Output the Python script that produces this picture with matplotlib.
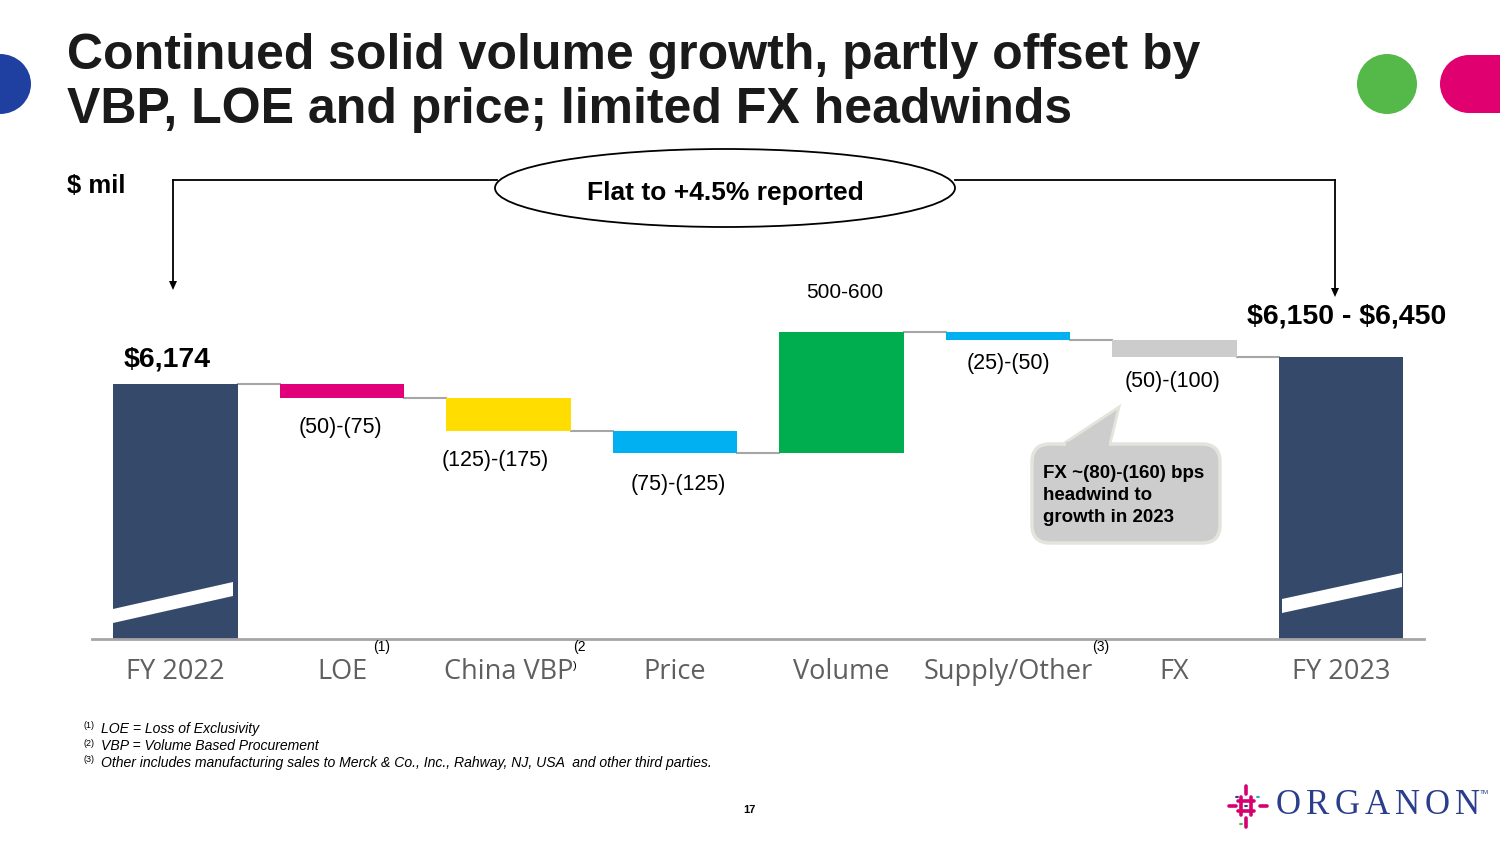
import numpy as np
import matplotlib
matplotlib.use("Agg")
import matplotlib.pyplot as plt
from matplotlib.patches import Ellipse, Circle, FancyBboxPatch, Polygon, Rectangle

plt.rcParams['font.family'] = ['Liberation Sans', 'DejaVu Sans']

# data (mid-points of the guided ranges, $ mil)
categories = ['FY 2022', 'LOE', 'China VBP', 'Price', 'Volume', 'Supply/Other', 'FX', 'FY 2023']
start_value = 6174
changes = [-62.5, -150, -100, 550, -37.5, -75]
value_labels = ['(50)-(75)', '(125)-(175)', '(75)-(125)', '500-600', '(25)-(50)', '(50)-(100)']
bar_colors = ['#E2007A', '#FFDD00', '#00B0F0', '#00AE4F', '#00B0F0', '#CCCCCC']
total_color = '#354A6B'
end_label = r'\$6,150 - \$6,450'
start_label = r'\$6,174'

W, H = 1500, 844
fig = plt.figure(figsize=(15, 8.44), dpi=100)


def fx(px):
    return px / W


def fy(py):
    return 1 - py / H


# axes placement in pixel terms
ax = fig.add_axes([fx(92.25), fy(639), fx(1332), 370.7 / H])
ax.set_xlim(-0.5, 7.5)
ax.set_ylim(5015, 6700)
for s in ['top', 'right', 'left']:
    ax.spines[s].set_visible(False)
ax.spines['bottom'].set_color('#A6A6A6')
ax.spines['bottom'].set_linewidth(2)
ax.set_yticks([])
ax.set_xticks(range(len(categories)))
ax.set_xticklabels(categories, fontsize=19.5, color='#5F5F5F', family=['Open Sans', 'DejaVu Sans'])
ax.tick_params(axis='x', length=0, pad=14)

bw = 0.75
cum = [start_value]
for c in changes:
    cum.append(cum[-1] + c)
end_value = cum[-1]

# totals
ax.bar(0, start_value, width=bw, bottom=0, color=total_color, zorder=2)
ax.bar(7, end_value, width=bw, bottom=0, color=total_color, zorder=2)

# steps
for i, c in enumerate(changes):
    x = i + 1
    lo = min(cum[i], cum[i + 1])
    ax.bar(x, abs(c), width=bw, bottom=lo, color=bar_colors[i], zorder=2)

# connectors
for i in range(len(cum)):
    ax.plot([i + bw / 2, i + 1 - bw / 2], [cum[i], cum[i]], color='#A6A6A6', lw=1.5, zorder=1)

# value labels (offsets in pixels from the bar end)
label_dx = [-2, -13, 3, 3, 0, -2]
label_dy = [-30, -30, -32, 39, -23, -25]
for i, c in enumerate(changes):
    x = i + 1
    ax.annotate(value_labels[i], (x, cum[i + 1]), xytext=(label_dx[i] * 0.72, label_dy[i] * 0.72),
                textcoords='offset points', ha='center', va='center',
                fontsize=15 if c > 0 else 15.5)

ax.annotate(start_label, (0, start_value), xytext=(-6, 18), textcoords='offset points',
            ha='center', va='center', fontsize=20.5, fontweight='bold')
ax.annotate(end_label, (7, end_value), xytext=(4, 29), textcoords='offset points',
            ha='center', va='center', fontsize=20.5, fontweight='bold')

# broken-axis slashes on the total bars
for x0, yl, yr in [(113, 616, 589), (1282, 606, 580)]:
    t = 14
    pts = [(x0, yl - t / 2), (x0 + 120, yr - t / 2), (x0 + 120, yr + t / 2), (x0, yl + t / 2)]
    fig.patches.append(Polygon([(fx(a), fy(b)) for a, b in pts], closed=True,
                               transform=fig.transFigure, facecolor='white', edgecolor='none', zorder=5))

# superscripts on tick labels
fig.text(fx(382), fy(647), '(1)', fontsize=10, ha='center', va='center')
fig.text(fx(579), fy(647), '(2', fontsize=10, ha='center', va='center')
fig.text(fx(575), fy(666), ')', fontsize=8, ha='center', va='center')
fig.text(fx(1101), fy(647), '(3)', fontsize=10, ha='center', va='center')

# title
fig.text(fx(67), fy(69), 'Continued solid volume growth, partly offset by', fontsize=36,
         fontweight='bold', ha='left', va='baseline', color='#1A1A1A')
fig.text(fx(67), fy(123), 'VBP, LOE and price; limited FX headwinds', fontsize=36,
         fontweight='bold', ha='left', va='baseline', color='#1A1A1A')
fig.text(fx(67), fy(193), r'\$ mil', fontsize=18.5, fontweight='bold', ha='left', va='baseline')

# bracket with ellipse
bk = dict(transform=fig.transFigure, color='black', lw=1.3)
fig.add_artist(plt.Line2D([fx(173), fx(497)], [fy(180), fy(180)], **bk))
fig.add_artist(plt.Line2D([fx(955), fx(1335)], [fy(180), fy(180)], **bk))
fig.add_artist(plt.Line2D([fx(173), fx(173)], [fy(180), fy(284)], **bk))
fig.add_artist(plt.Line2D([fx(1335), fx(1335)], [fy(180), fy(291)], **bk))
for xa, ya in [(173, 290), (1335, 297)]:
    fig.patches.append(Polygon([(fx(xa), fy(ya)), (fx(xa - 4), fy(ya - 9)), (fx(xa + 4), fy(ya - 9))],
                               closed=True, transform=fig.transFigure, facecolor='black', edgecolor='none'))
fig.patches.append(Ellipse((fx(725), fy(188)), fx(460), 78 / H, transform=fig.transFigure,
                           facecolor='white', edgecolor='black', lw=1.3, zorder=3))
fig.text(fx(725), fy(193), 'Flat to +4.5% reported', fontsize=19, fontweight='bold',
         ha='center', va='center', zorder=4)

# callout box for FX
box_fc, box_ec = '#CDCDCD', '#E4E4DC'
fig.patches.append(FancyBboxPatch((fx(1032), fy(543)), fx(188), 99 / H,
                                  boxstyle='round,pad=0,rounding_size=0.012', transform=fig.transFigure,
                                  facecolor=box_fc, edgecolor=box_ec, lw=2.5, zorder=3,
                                  mutation_aspect=W / H))
fig.patches.append(Polygon([(fx(1063), fy(444)), (fx(1119), fy(407)), (fx(1110), fy(444))], closed=True,
                           transform=fig.transFigure, facecolor=box_fc, edgecolor=box_ec, lw=2, zorder=3))
fig.patches.append(Polygon([(fx(1066), fy(448)), (fx(1066), fy(442)), (fx(1109), fy(442)), (fx(1109), fy(448))],
                           closed=True, transform=fig.transFigure, facecolor=box_fc, edgecolor='none', zorder=4))
fig.text(fx(1043), fy(473), 'FX ~(80)-(160) bps', fontsize=13.5, fontweight='bold', ha='left', va='center', zorder=5)
fig.text(fx(1043), fy(496), 'headwind to', fontsize=13.5, fontweight='bold', ha='left', va='center', zorder=5)
fig.text(fx(1043), fy(518), 'growth in 2023', fontsize=13.5, fontweight='bold', ha='left', va='center', zorder=5)

# footnotes
notes = ['LOE = Loss of Exclusivity', 'VBP = Volume Based Procurement',
         'Other includes manufacturing sales to Merck & Co., Inc., Rahway, NJ, USA  and other third parties.']
for k, (note, yy) in enumerate(zip(notes, [729, 746, 763])):
    fig.text(fx(84), fy(yy - 3), '(%d)' % (k + 1), fontsize=6.5, ha='left', va='center')
    fig.text(fx(101), fy(yy), note, fontsize=10.1, style='italic', ha='left', va='center')
fig.text(fx(749), fy(810), '17', fontsize=8, fontweight='bold', ha='center', va='center')

# decorative shapes
fig.patches.append(Ellipse((0, fy(84)), fx(62), 60 / H, transform=fig.transFigure, facecolor='#1F40A0',
                           edgecolor='none'))
fig.patches.append(Ellipse((fx(1387), fy(84)), fx(60), 60 / H, transform=fig.transFigure,
                           facecolor='#54B948', edgecolor='none'))
fig.patches.append(Ellipse((fx(1469), fy(84)), fx(58), 58 / H, transform=fig.transFigure,
                           facecolor='#E0006F', edgecolor='none'))
fig.patches.append(Rectangle((fx(1469), fy(113)), fx(40), 58 / H, transform=fig.transFigure,
                             facecolor='#E0006F', edgecolor='none'))

# logo
logo_x = np.linspace(1288, 1467, 7)
for ch, xx in zip('ORGANON', logo_x):
    fig.text(fx(xx), fy(806), ch, fontsize=25, family=['Liberation Serif'], color='#2B3E8C',
             ha='center', va='center')
fig.text(fx(1484), fy(793), 'TM', fontsize=4.5, color='#2B3E8C', ha='center', va='center')
pink = '#D6006F'
segs = [((1229, 806), (1236, 806)), ((1260, 806), (1267, 806)), ((1246, 786), (1246, 794)),
        ((1246, 818), (1246, 827)), ((1241, 797), (1241, 815)), ((1251, 797), (1251, 815)),
        ((1238, 801), (1254, 801)), ((1238, 811), (1254, 811))]
for (a, b), (c, d) in segs:
    fig.add_artist(plt.Line2D([fx(a), fx(c)], [fy(b), fy(d)], transform=fig.transFigure,
                              color=pink, lw=2.6, solid_capstyle='round'))
for (a, b), col in [((1237, 797), '#2B3E8C'), ((1258, 797), '#2BB0C8'), ((1246, 806), '#2B3E8C'),
                    ((1241, 824), '#54B948')]:
    fig.patches.append(Circle((fx(a), fy(b)), 2 / W, transform=fig.transFigure, facecolor=col,
                              edgecolor='none'))

fig.savefig('out.png', dpi=100, facecolor='white')
